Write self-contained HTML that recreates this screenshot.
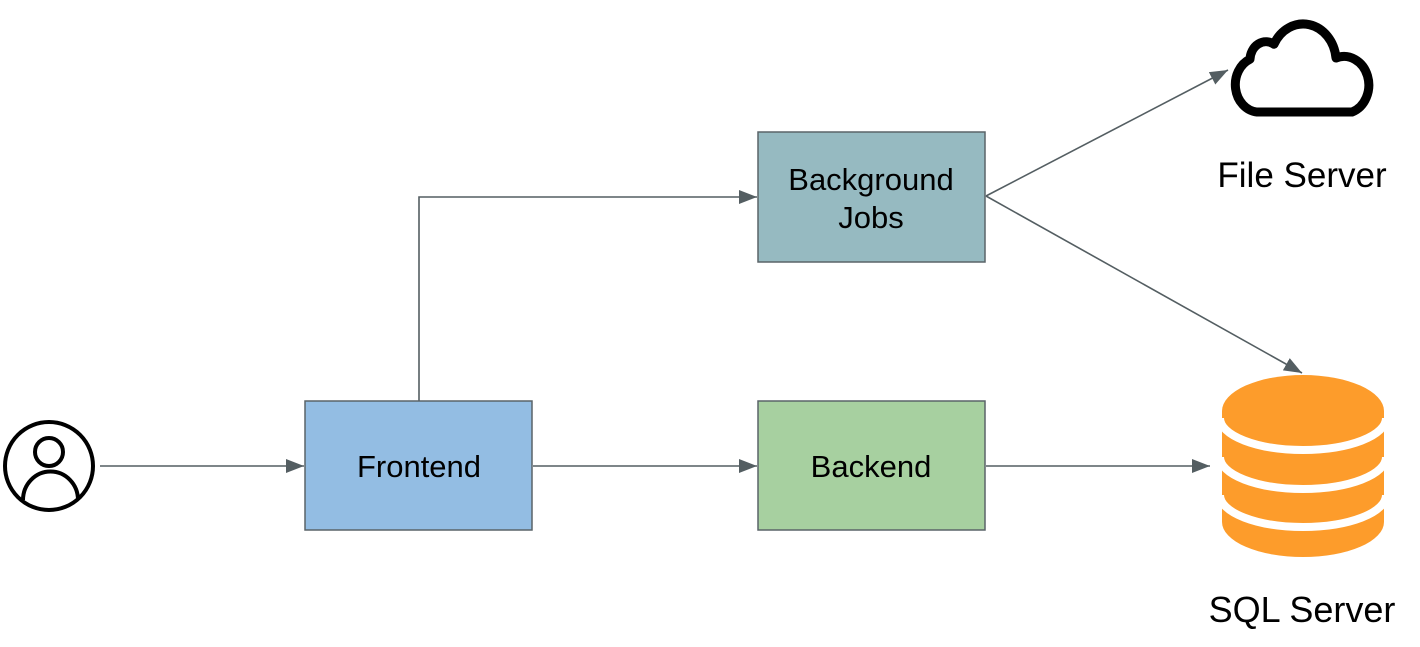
<!DOCTYPE html>
<html><head><meta charset="utf-8"><style>
html,body{margin:0;padding:0;background:#fff;}
svg{display:block;}
text{font-family:"Liberation Sans",sans-serif;}
</style></head><body>
<svg width="1420" height="647" viewBox="0 0 1420 647" xmlns="http://www.w3.org/2000/svg">
<defs>
<marker id="b" markerWidth="18" markerHeight="14" refX="18" refY="7" orient="auto" markerUnits="userSpaceOnUse">
<path d="M0,0 L18,7 L0,14 Z" fill="#545e62"/>
</marker>
</defs>
<!-- user -->
<circle cx="49" cy="466" r="44" fill="none" stroke="#000" stroke-width="4"/>
<circle cx="49" cy="452" r="14" fill="none" stroke="#000" stroke-width="4"/>
<path d="M23,500 A27,28 0 0 1 78,500" fill="none" stroke="#000" stroke-width="4"/>
<!-- connectors -->
<g stroke="#545e62" stroke-width="1.6" fill="none">
<line x1="100" y1="466" x2="304" y2="466" marker-end="url(#b)"/>
<line x1="533" y1="466" x2="757" y2="466" marker-end="url(#b)"/>
<line x1="986" y1="466" x2="1210" y2="466" marker-end="url(#b)"/>
<polyline points="419,401 419,197 757,197" marker-end="url(#b)"/>
<line x1="986" y1="196" x2="1228" y2="70" marker-end="url(#b)"/>
<line x1="986" y1="196" x2="1302" y2="373" marker-end="url(#b)"/>
</g>
<!-- boxes -->
<rect x="305" y="401" width="227" height="129" fill="#93bde3" stroke="#5a6468" stroke-width="1.5"/>
<text x="419" y="477" font-size="31" text-anchor="middle">Frontend</text>
<rect x="758" y="132" width="227" height="130" fill="#96bac1" stroke="#5a6468" stroke-width="1.5"/>
<text x="871" y="190" font-size="31" text-anchor="middle">Background</text>
<text x="871" y="228" font-size="31" text-anchor="middle">Jobs</text>
<rect x="758" y="401" width="227" height="129" fill="#a7d0a0" stroke="#5a6468" stroke-width="1.5"/>
<text x="871" y="477" font-size="31" text-anchor="middle">Backend</text>
<!-- cloud -->
<g transform="translate(0,-11) scale(1,1.15)">
<path vector-effect="non-scaling-stroke" d="M1257,107 A24,24 0 0 1 1250,61 A16,16 0 0 1 1274,48 A33,33 0 0 1 1336,60 A24,24 0 0 1 1352,107 Z" fill="none" stroke="#000" stroke-width="9" stroke-linejoin="round"/>
</g>
<text x="1302" y="187" font-size="35" text-anchor="middle">File Server</text>
<!-- database -->
<path d="M1222,411 L1222,522 A81,35 0 0 0 1384,522 L1384,411 Z" fill="#fd9c2b"/>
<ellipse cx="1303" cy="411" rx="81" ry="36" fill="#fd9c2b"/>
<g fill="none" stroke="#fff" stroke-width="8">
<path d="M1220,418 A83,32 0 0 0 1386,418"/>
<path d="M1220,457 A83,32 0 0 0 1386,457"/>
<path d="M1220,495 A83,32 0 0 0 1386,495"/>
</g>
<text x="1302" y="622" font-size="36" text-anchor="middle">SQL Server</text>
</svg>
</body></html>
